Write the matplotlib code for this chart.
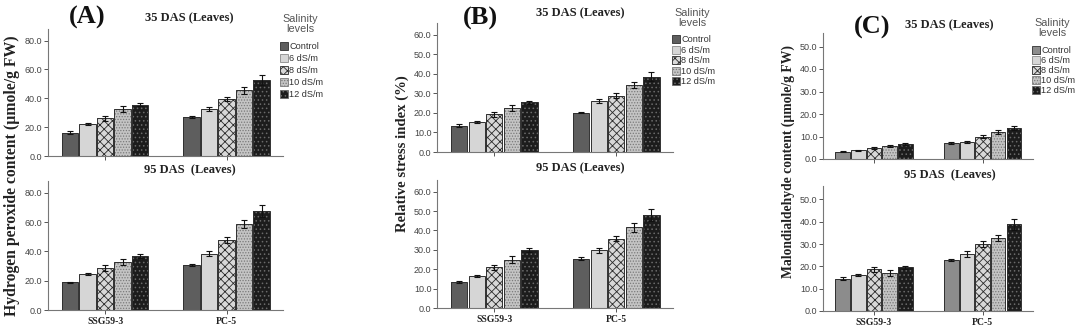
import numpy as np
import matplotlib
matplotlib.use("Agg")
import matplotlib.pyplot as plt
from matplotlib.patches import Patch

# groups and salinity levels
genotypes = ["SSG59-3", "PC-5"]
levels = ["Control", "6 dS/m", "8 dS/m", "10 dS/m", "12 dS/m"]

# (A) hydrogen peroxide, means and error bars per genotype
a35_ssg = [16.2, 22.3, 26.0, 32.5, 35.5]
a35_ssg_err = [0.9, 0.7, 1.5, 2.0, 1.2]
a35_pc = [27.0, 32.5, 39.7, 45.4, 52.4]
a35_pc_err = [0.8, 1.5, 1.5, 2.5, 3.5]
a95_ssg = [18.8, 24.8, 28.9, 32.8, 36.7]
a95_ssg_err = [0.6, 0.6, 2.0, 2.2, 1.2]
a95_pc = [30.7, 38.5, 47.7, 58.5, 67.6]
a95_pc_err = [0.6, 1.6, 2.0, 2.8, 4.0]

# (B) relative stress index
b35_ssg = [13.4, 15.3, 19.4, 22.6, 25.4]
b35_ssg_err = [0.7, 0.5, 1.3, 1.5, 0.8]
b35_pc = [20.2, 25.9, 28.8, 34.3, 38.6]
b35_pc_err = [0.4, 1.0, 1.3, 1.6, 2.5]
b95_ssg = [13.3, 16.4, 21.0, 25.0, 29.7]
b95_ssg_err = [0.6, 0.5, 1.2, 2.0, 1.0]
b95_pc = [25.5, 29.7, 35.7, 41.6, 47.9]
b95_pc_err = [0.6, 1.3, 1.4, 2.2, 3.0]

# (C) malondialdehyde
c35_ssg = [3.2, 3.8, 5.0, 5.8, 6.5]
c35_ssg_err = [0.3, 0.3, 0.4, 0.6, 0.4]
c35_pc = [7.1, 7.5, 9.9, 12.0, 13.8]
c35_pc_err = [0.4, 0.5, 0.6, 0.8, 1.0]
c95_ssg = [14.5, 16.3, 18.6, 17.2, 19.5]
c95_ssg_err = [0.6, 0.4, 1.3, 1.3, 0.5]
c95_pc = [22.8, 25.7, 29.9, 32.7, 38.8]
c95_pc_err = [0.6, 1.3, 1.3, 1.5, 2.4]

# bar styles: (face, hatch, hatch colour)
styles = [
    ("#5e5e5e", None, None),
    ("#d6d6d6", ":::", "#8a8a8a"),
    ("#d8d8d8", "xxxx", "#2a2a2a"),
    ("#c4c4c4", "......", "#7a7a7a"),
    ("#1c1c1c", "....", "#6a6a6a"),
]
styles_c = [("#8c8c8c", None, None)] + styles[1:]

plt.rcParams["hatch.linewidth"] = 0.6
serif = "Liberation Serif"
sans = "Liberation Sans"

fig = plt.figure(figsize=(10.8, 3.34), dpi=100)


def px_axes(left, right, top, bottom):
    W, H = 1080.0, 334.0
    return fig.add_axes([left / W, 1 - bottom / H, (right - left) / W, (bottom - top) / H])


def draw(ax, ssg, ssg_err, pc, pc_err, ymax, ticks, sty, show_x):
    x = np.arange(len(genotypes))
    w = 0.144
    for i in range(len(levels)):
        vals = [ssg[i], pc[i]]
        errs = [ssg_err[i], pc_err[i]]
        pos = x + (i - 2) * w
        face, hatch, hc = sty[i]
        if hatch:
            ax.bar(pos, vals, w * 0.93, color=face, hatch=hatch, edgecolor=hc, linewidth=0, zorder=2)
        else:
            ax.bar(pos, vals, w * 0.93, color=face, linewidth=0, zorder=2)
        ax.bar(pos, vals, w * 0.93, fill=False, edgecolor="#303030", linewidth=0.7, zorder=3)
        ax.errorbar(pos, vals, yerr=errs, fmt="none", ecolor="#111111", elinewidth=0.8,
                    capsize=2.5, capthick=0.8, zorder=4)
    ax.set_xlim(-0.47, 1.465)
    ax.set_ylim(0, ymax)
    ax.set_yticks(ticks)
    ax.set_yticklabels([f"{t:.1f}" for t in ticks], fontsize=6.5, color="#444444", family=sans)
    ax.set_xticks(x)
    if show_x:
        ax.set_xticklabels(genotypes, fontsize=7, fontweight="bold", family=serif, color="#222222")
    else:
        ax.set_xticklabels([])
    for s in ["top", "right"]:
        ax.spines[s].set_visible(False)
    for s in ["left", "bottom"]:
        ax.spines[s].set_color("#777777")
        ax.spines[s].set_linewidth(0.8)
    ax.tick_params(axis="y", length=3, width=0.7, color="#555555", pad=1)
    ax.tick_params(axis="x", length=3, width=0.7, color="#555555", pad=2)


def legend(sty, x0, ytitle, yfirst, step):
    fig.text(x0 + 0.013, 1 - ytitle / 334, "Salinity\nlevels", fontsize=7.8, color="#555555",
             family=sans, ha="center", va="center", linespacing=1.05)
    handles = []
    for face, hatch, hc in sty:
        handles.append(Patch(facecolor=face, hatch=hatch, edgecolor=hc if hc else "#303030", linewidth=0.6))
    leg = fig.legend(handles, levels, loc="upper left",
                     bbox_to_anchor=(x0 - 0.006, 1 - (yfirst - 7) / 334), frameon=False,
                     fontsize=6.6, handlelength=0.9, handleheight=1.0, handletextpad=0.15,
                     labelspacing=(step / 9.2) - 1.0, borderpad=0, borderaxespad=0)
    for t in leg.get_texts():
        t.set_color("#333333")
        t.set_family(sans)


# panel A
axA1 = px_axes(48, 283, 29, 156)
draw(axA1, a35_ssg, a35_ssg_err, a35_pc, a35_pc_err, 88, [0, 20, 40, 60, 80], styles, False)
axA2 = px_axes(48, 283, 181, 310)
draw(axA2, a95_ssg, a95_ssg_err, a95_pc, a95_pc_err, 88, [0, 20, 40, 60, 80], styles, True)

# panel B
axB1 = px_axes(437, 673, 23, 152)
draw(axB1, b35_ssg, b35_ssg_err, b35_pc, b35_pc_err, 66, [0, 10, 20, 30, 40, 50, 60], styles, False)
axB2 = px_axes(437, 673, 180, 308)
draw(axB2, b95_ssg, b95_ssg_err, b95_pc, b95_pc_err, 66, [0, 10, 20, 30, 40, 50, 60], styles, True)

# panel C
axC1 = px_axes(823, 1033, 33, 159)
draw(axC1, c35_ssg, c35_ssg_err, c35_pc, c35_pc_err, 56, [0, 10, 20, 30, 40, 50], styles_c, False)
axC2 = px_axes(823, 1033, 186, 311)
draw(axC2, c95_ssg, c95_ssg_err, c95_pc, c95_pc_err, 56, [0, 10, 20, 30, 40, 50], styles_c, True)


def ftext(xp, yp, s, **kw):
    fig.text(xp / 1080, 1 - yp / 334, s, ha="center", va="center", **kw)


# panel letters
ftext(87, 17, "(A)", fontsize=19, fontweight="bold", family=serif, color="#111111")
ftext(480, 18, "(B)", fontsize=19, fontweight="bold", family=serif, color="#111111")
ftext(872, 27, "(C)", fontsize=19, fontweight="bold", family=serif, color="#111111")

# subplot titles
title_kw = dict(fontsize=9, fontweight="bold", family=serif, color="#222222")
ftext(189, 18, "35 DAS (Leaves)", **title_kw)
ftext(190, 170, "95 DAS  (Leaves)", **title_kw)
ftext(580, 13, "35 DAS (Leaves)", **title_kw)
ftext(580, 168, "95 DAS (Leaves)", **title_kw)
ftext(949, 25, "35 DAS (Leaves)", **title_kw)
ftext(950, 175, "95 DAS  (Leaves)", **title_kw)

# y labels
ylab_kw = dict(fontweight="bold", family=serif, color="#222222", rotation=90)
ftext(12, 176, "Hydrogen peroxide content (\u00b5mole/g FW)", fontsize=11.3, **ylab_kw)
ftext(402, 154, "Relative stress index (%)", fontsize=10.6, **ylab_kw)
ftext(788, 161, "Malondialdehyde content (\u00b5mole/g FW)", fontsize=9.8, **ylab_kw)

# legends
legend(styles, 286 / 1080, 24, 49, 12)
legend(styles, 678 / 1080, 18, 42, 10.5)
legend(styles_c, 1038 / 1080, 28, 53, 10)

fig.savefig("out.png", dpi=100)
